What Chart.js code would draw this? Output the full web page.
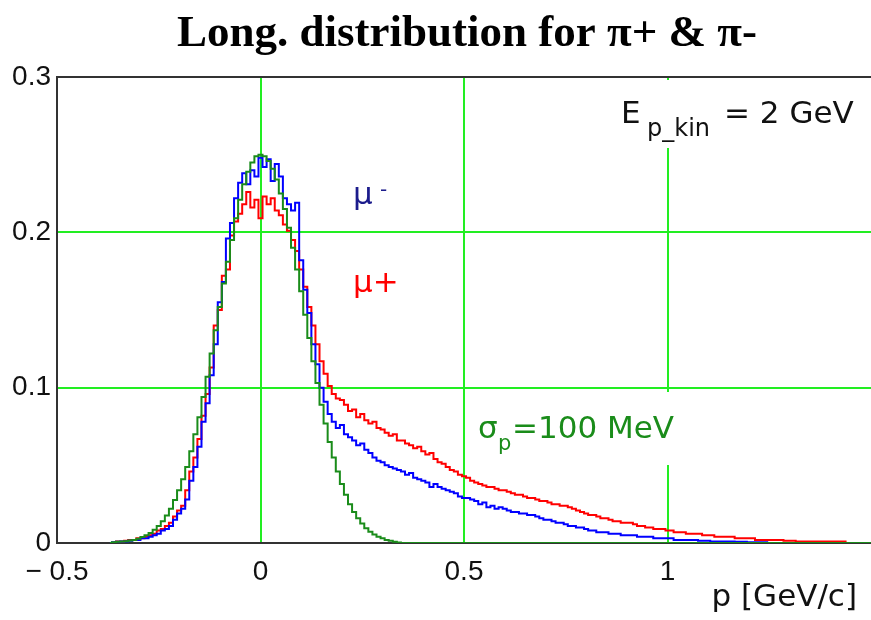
<!DOCTYPE html>
<html>
<head>
<meta charset="utf-8">
<script src="https://cdn.jsdelivr.net/npm/chart.js@4.4.1/dist/chart.umd.min.js"></script>
<style>
  html, body { margin: 0; padding: 0; background: #fff; }
</style>
</head>
<body>
<canvas id="chart" width="871" height="620"></canvas>
<script>
// Longitudinal momentum distribution, histogram bins of 0.01 GeV/c
const pBins = [
  -0.40, -0.39, -0.38, -0.37, -0.36, -0.35, -0.34, -0.33, -0.32, -0.31,
  -0.30, -0.29, -0.28, -0.27, -0.26, -0.25, -0.24, -0.23, -0.22, -0.21,
  -0.20, -0.19, -0.18, -0.17, -0.16, -0.15, -0.14, -0.13, -0.12, -0.11,
  -0.10, -0.09, -0.08, -0.07, -0.06, -0.05, -0.04, -0.03, -0.02, -0.01,
  0.00, 0.01, 0.02, 0.03, 0.04, 0.05, 0.06, 0.07, 0.08, 0.09,
  0.10, 0.11, 0.12, 0.13, 0.14, 0.15, 0.16, 0.17, 0.18, 0.19,
  0.20, 0.21, 0.22, 0.23, 0.24, 0.25, 0.26, 0.27, 0.28, 0.29,
  0.30, 0.31, 0.32, 0.33, 0.34, 0.35, 0.36, 0.37, 0.38, 0.39,
  0.40, 0.41, 0.42, 0.43, 0.44, 0.45, 0.46, 0.47, 0.48, 0.49,
  0.50, 0.51, 0.52, 0.53, 0.54, 0.55, 0.56, 0.57, 0.58, 0.59,
  0.60, 0.61, 0.62, 0.63, 0.64, 0.65, 0.66, 0.67, 0.68, 0.69,
  0.70, 0.71, 0.72, 0.73, 0.74, 0.75, 0.76, 0.77, 0.78, 0.79,
  0.80, 0.81, 0.82, 0.83, 0.84, 0.85, 0.86, 0.87, 0.88, 0.89,
  0.90, 0.91, 0.92, 0.93, 0.94, 0.95, 0.96, 0.97, 0.98, 0.99,
  1.00, 1.01, 1.02, 1.03, 1.04, 1.05, 1.06, 1.07, 1.08, 1.09,
  1.10, 1.11, 1.12, 1.13, 1.14, 1.15, 1.16, 1.17, 1.18, 1.19,
  1.20, 1.21, 1.22, 1.23, 1.24, 1.25, 1.26, 1.27, 1.28, 1.29,
  1.30, 1.31, 1.32, 1.33, 1.34, 1.35, 1.36, 1.37, 1.38, 1.39,
  1.40, 1.41, 1.42, 1.43, 1.44, 1.45, 1.46, 1.47, 1.48, 1.49,
  1.50
];

// mu- (blue)
const muMinus = [
  null, null, null, 0, 0.0005, 0.0008, 0.001, 0.001, 0.0015, 0.002,
  0.002, 0.003, 0.003, 0.004, 0.005, 0.006, 0.008, 0.009, 0.011, 0.015,
  0.019, 0.022, 0.028, 0.040, 0.049, 0.062, 0.078, 0.090, 0.108, 0.128,
  0.155, 0.168, 0.196, 0.206, 0.222, 0.232, 0.238, 0.231, 0.240, 0.236,
  0.248, 0.242, 0.247, 0.233, 0.244, 0.236, 0.222, 0.218, 0.214, 0.219,
  0.182, 0.163, 0.148, 0.128, 0.115, 0.100, 0.091, 0.083, 0.078, 0.074,
  0.076, 0.070, 0.068, 0.066, 0.063, 0.064, 0.060, 0.058, 0.055, 0.053,
  0.052, 0.050, 0.049, 0.048, 0.047, 0.046, 0.044, 0.045, 0.042, 0.041,
  0.040, 0.039, 0.036, 0.038, 0.036, 0.035, 0.034, 0.033, 0.032, 0.030,
  0.029, 0.029, 0.028, 0.027, 0.025, 0.026, 0.023, 0.024, 0.022, 0.023,
  0.022, 0.021, 0.020, 0.020, 0.019, 0.019, 0.018, 0.018, 0.017, 0.016,
  0.015, 0.015, 0.014, 0.013, 0.013, 0.012, 0.011, 0.011, 0.010, 0.010,
  0.009, 0.008, 0.008, 0.007, 0.007, 0.007, 0.006, 0.006, 0.006, 0.005,
  0.005, 0.005, 0.005, 0.004, 0.004, 0.004, 0.004, 0.003, 0.003, 0.003,
  0.003, 0.003, 0.002, 0.002, 0.002, 0.002, 0.002, 0.002, 0.0015, 0.0015,
  0.0015, 0.001, 0.001, 0.001, 0.001, 0.001, 0.001, 0.0008, 0.0008, 0.0008,
  0.0005, 0.0005, 0.0005, 0.0005, 0.0005, 0, 0, 0, 0, 0,
  0, 0, 0, 0, 0, 0, 0, 0, 0, 0,
  0, 0, 0, 0, 0, 0, 0, 0, 0, 0,
  0
];

// mu+ (red)
const muPlus = [
  null, null, null, null, 0.0005, 0.001, 0.001, 0.0015, 0.002, 0.002,
  0.003, 0.003, 0.004, 0.005, 0.006, 0.008, 0.009, 0.011, 0.013, 0.017,
  0.021, 0.024, 0.034, 0.046, 0.055, 0.067, 0.082, 0.096, 0.113, 0.140,
  0.150, 0.172, 0.176, 0.198, 0.207, 0.212, 0.218, 0.226, 0.216, 0.221,
  0.209, 0.223, 0.218, 0.222, 0.214, 0.211, 0.205, 0.201, 0.195, 0.188,
  0.176, 0.165, 0.152, 0.140, 0.128, 0.117, 0.109, 0.101, 0.096, 0.093,
  0.092, 0.089, 0.085, 0.086, 0.081, 0.083, 0.079, 0.077, 0.078, 0.074,
  0.073, 0.071, 0.069, 0.070, 0.066, 0.066, 0.064, 0.063, 0.061, 0.062,
  0.059, 0.057, 0.058, 0.054, 0.052, 0.051, 0.049, 0.047, 0.046, 0.044,
  0.043, 0.042, 0.040, 0.039, 0.038, 0.037, 0.036, 0.036, 0.035, 0.034,
  0.034, 0.033, 0.032, 0.031, 0.031, 0.030, 0.029, 0.029, 0.028, 0.027,
  0.027, 0.026, 0.025, 0.025, 0.024, 0.024, 0.023, 0.022, 0.021, 0.020,
  0.019, 0.018, 0.018, 0.017, 0.016, 0.016, 0.015, 0.014, 0.014, 0.013,
  0.013, 0.013, 0.012, 0.011, 0.011, 0.010, 0.010, 0.009, 0.009, 0.009,
  0.008, 0.008, 0.007, 0.007, 0.007, 0.006, 0.006, 0.006, 0.006, 0.005,
  0.005, 0.005, 0.004, 0.004, 0.004, 0.004, 0.004, 0.003, 0.003, 0.003,
  0.003, 0.003, 0.002, 0.002, 0.002, 0.002, 0.002, 0.002, 0.002, 0.0015,
  0.0015, 0.0015, 0.001, 0.001, 0.001, 0.001, 0.001, 0.001, 0.001, 0.001,
  0.001, 0.001, 0.001, 0.001, 0.001, null, null, null, null, null,
  null
];

// gaussian reference, sigma_p = 100 MeV (green)
const gauss = [
  null, null, null, 0, 0.0005, 0.0008, 0.001, 0.0012, 0.0016, 0.002,
  0.0028, 0.0038, 0.005, 0.0065, 0.0085, 0.011, 0.014, 0.0177, 0.022, 0.0277,
  0.034, 0.041, 0.049, 0.059, 0.070, 0.081, 0.094, 0.107, 0.122, 0.137,
  0.152, 0.167, 0.181, 0.195, 0.209, 0.221, 0.231, 0.239, 0.245, 0.249,
  0.250, 0.249, 0.246, 0.241, 0.234, 0.225, 0.215, 0.203, 0.190, 0.176,
  0.162, 0.147, 0.132, 0.117, 0.103, 0.089, 0.077, 0.065, 0.055, 0.046,
  0.038, 0.031, 0.025, 0.020, 0.016, 0.0125, 0.0095, 0.0072, 0.0054, 0.004,
  0.003, 0.002, 0.0014, 0.0008, 0.0004, 0, 0, 0, 0, 0,
  0, 0, 0, 0, 0, 0, 0, 0, 0, 0,
  0, 0, 0, 0, 0, 0, 0, 0, 0, 0,
  0, 0, 0, 0, 0, 0, 0, 0, 0, 0,
  0, 0, 0, 0, 0, 0, 0, 0, 0, 0,
  0, 0, 0, 0, 0, 0, 0, 0, 0, 0,
  0, 0, 0, 0, 0, 0, 0, 0, 0, 0,
  0, 0, 0, 0, 0, 0, 0, 0, 0, 0,
  0, 0, 0, 0, 0, 0, 0, 0, 0, 0,
  0, 0, 0, 0, 0, 0, 0, 0, 0, 0,
  0, 0, 0, 0, 0, 0, 0, 0, 0, 0,
  0, 0, 0, 0, 0, 0, 0, 0, 0, 0,
  0
];

const xTicks = [-0.5, 0, 0.5, 1];
const yTicks = [0, 0.1, 0.2, 0.3];

const GRID = '#22ee22';
const FRAME = '#333';

const toPoints = arr => pBins.map((p, i) => ({ x: p, y: arr[i] }));

// text + white boxes drawn on top of the plot
const annotations = {
  id: 'annotations',
  afterDraw(chart) {
    const ctx = chart.ctx;
    ctx.save();
    // title
    ctx.fillStyle = '#000';
    ctx.font = 'bold 45px "Liberation Serif"';
    ctx.textAlign = 'center';
    ctx.textBaseline = 'alphabetic';
    ctx.fillText('Long. distribution for \u03c0+ & \u03c0-', 467, 46);

    // white boxes behind labels
    ctx.fillStyle = '#fff';
    ctx.fillRect(612, 80, 259, 68);
    ctx.fillRect(468, 392, 212, 73);

    ctx.textAlign = 'left';
    // E_p_kin = 2 GeV
    ctx.fillStyle = '#111';
    ctx.font = '31px "DejaVu Sans"';
    ctx.fillText('E', 621, 123);
    ctx.font = '24px "DejaVu Sans"';
    ctx.fillText('p_kin', 647, 136);
    ctx.font = '31px "DejaVu Sans"';
    ctx.fillText('= 2 GeV', 724, 123);

    // mu- / mu+
    ctx.fillStyle = '#1c1c8c';
    ctx.font = '31px "DejaVu Sans"';
    ctx.fillText('\u03bc', 353, 204);
    ctx.font = '20px "DejaVu Sans"';
    ctx.fillText('-', 380, 196);
    ctx.fillStyle = '#ff0000';
    ctx.font = '31px "DejaVu Sans"';
    ctx.fillText('\u03bc+', 353, 292);

    // sigma_p = 100 MeV
    ctx.fillStyle = '#1a8c1a';
    ctx.font = '31px "DejaVu Sans"';
    ctx.fillText('\u03c3', 478, 438);
    ctx.font = '21px "DejaVu Sans"';
    ctx.fillText('p', 498, 450);
    ctx.font = '31px "DejaVu Sans"';
    ctx.fillText('=100 MeV', 512, 438);

    // axis title
    ctx.fillStyle = '#111';
    ctx.textAlign = 'right';
    ctx.fillText('p [GeV/c]', 857, 606);
    ctx.restore();
  }
};

new Chart(document.getElementById('chart'), {
  type: 'line',
  data: {
    datasets: [
      { label: 'sigma', data: toPoints(gauss), borderColor: '#1a8c1a', borderWidth: 2, stepped: 'middle' },
      { label: 'mu-', data: toPoints(muMinus), borderColor: '#0000ff', borderWidth: 2, stepped: 'middle' },
      { label: 'mu+', data: toPoints(muPlus), borderColor: '#ff0000', borderWidth: 2, stepped: 'middle' }
    ]
  },
  options: {
    responsive: false,
    animation: false,
    devicePixelRatio: 1,
    layout: { padding: { top: 77, right: 0, left: 0, bottom: 0 } },
    elements: { point: { radius: 0 }, line: { tension: 0, fill: false } },
    plugins: { legend: { display: false }, tooltip: { enabled: false } },
    scales: {
      x: {
        type: 'linear',
        min: -0.5, max: 1.5,
        afterFit: s => { s.height = 77; s.paddingRight = 0; s.paddingLeft = 0; },
        afterBuildTicks: s => { s.ticks = xTicks.concat([1.5]).map(v => ({ value: v })); },
        ticks: {
          padding: 12,
          color: '#111',
          font: { family: '"Liberation Sans"', size: 28 },
          maxRotation: 0,
          callback: v => v === 1.5 ? '' : (v < 0 ? '\u2212 ' + Math.abs(v) : String(v))
        },
        grid: {
          drawTicks: false,
          lineWidth: 2,
          color: c => (c.tick && (c.tick.value === 0 || c.tick.value === 0.5 || c.tick.value === 1)) ? GRID : 'rgba(0,0,0,0)'
        },
        border: { display: true, color: FRAME, width: 2 }
      },
      y: {
        min: 0, max: 0.3,
        afterFit: s => { s.width = 57; s.paddingTop = 0; s.paddingBottom = 0; },
        afterBuildTicks: s => { s.ticks = yTicks.map(v => ({ value: v })); },
        ticks: {
          padding: 6,
          color: '#111',
          font: { family: '"Liberation Sans"', size: 28 },
          callback: v => String(Number(v.toFixed(1)))
        },
        grid: {
          drawTicks: false,
          lineWidth: 2,
          color: c => {
            if (!c.tick) return 'rgba(0,0,0,0)';
            if (c.tick.value === 0.3) return FRAME;
            if (c.tick.value === 0) return 'rgba(0,0,0,0)';
            return GRID;
          }
        },
        border: { display: true, color: FRAME, width: 2 }
      }
    }
  },
  plugins: [annotations]
});
</script>
</body>
</html>
